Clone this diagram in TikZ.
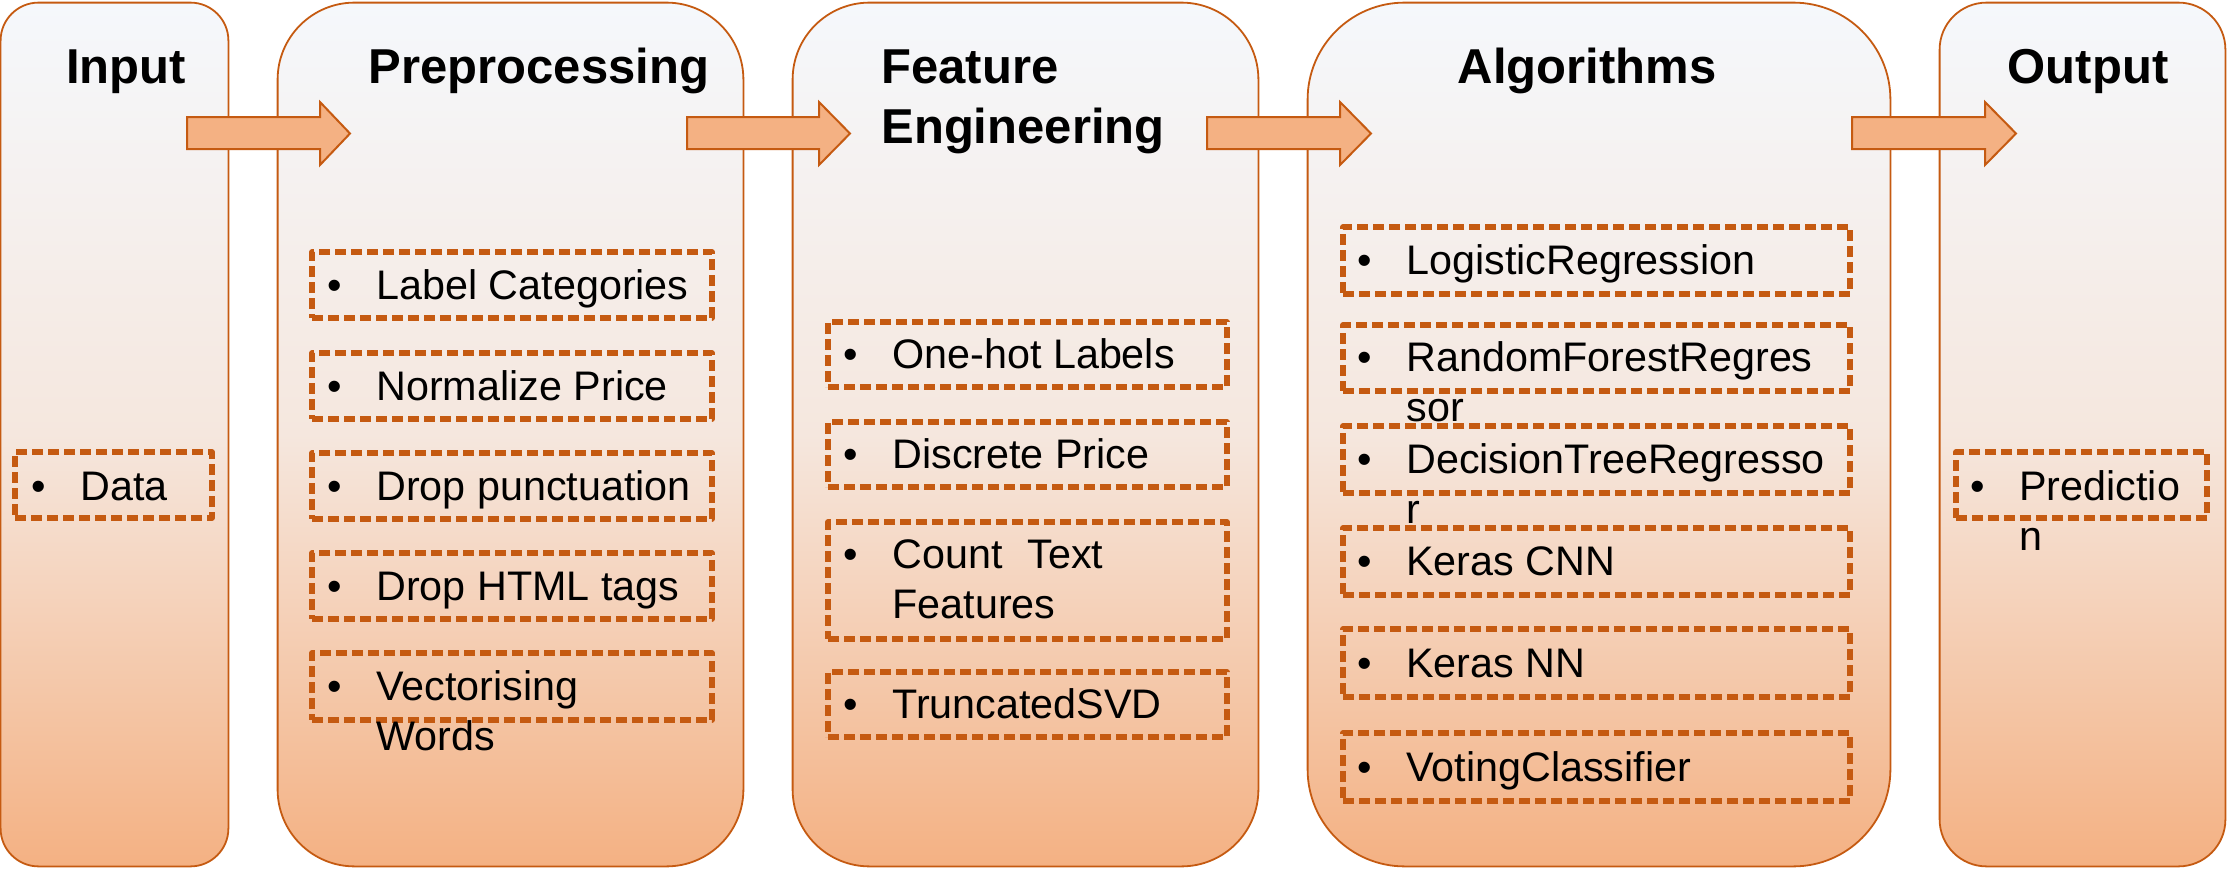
\documentclass[tikz,border=0pt]{standalone}
\usepackage{fontspec}
\setmainfont{Liberation Sans}
\usetikzlibrary{fit}
\definecolor{edge}{HTML}{C55A11}
\definecolor{peach}{HTML}{F4B183}
\definecolor{topc}{HTML}{F5F8FC}
\definecolor{midc}{HTML}{F5E7DE}
\pgfdeclareverticalshading{panelshade}{100bp}{color(0bp)=(peach); color(25bp)=(peach); color(50bp)=(midc); color(75bp)=(topc); color(100bp)=(topc)}
\newcommand\bul[1]{\makebox[24.5pt][l]{•}\begin{tabular}[t]{@{}l@{}}#1\end{tabular}}
\tikzset{
  panelfill/.style={shading=panelshade, draw=none, inner sep=0pt},
  paneledge/.style={draw=edge, line width=0.9pt},
  blockarrow/.style={fill=peach, draw=edge, line width=1pt, line join=miter},
  itembox/.style={draw=edge, line width=2.6pt, dash pattern=on 5.5pt off 2.5pt, line join=round, inner sep=0pt},
  itemtxt/.style={anchor=base west, inner sep=0pt, font=\fontsize{20.65pt}{25pt}\selectfont},
  titletxt/.style={anchor=base, inner sep=0pt, font=\fontsize{24.5pt}{30pt}\selectfont\bfseries}
}
\begin{document}
\begin{tikzpicture}[x=0.5pt, y=-0.5pt]
\useasboundingbox (0,0) rectangle (2227,868);
% panels
\node[panelfill, minimum width=113.5pt, minimum height=431.5pt, rounded corners=19pt] (inp) at (114.5,434.5) {};
\node[panelfill, minimum width=232.5pt, minimum height=431.5pt, rounded corners=38.5pt] (pre) at (510.5,434.5) {};
\node[panelfill, minimum width=232.5pt, minimum height=431.5pt, rounded corners=38.5pt] (fe) at (1025.5,434.5) {};
\node[panelfill, minimum width=291pt, minimum height=431.5pt, rounded corners=48.5pt] (alg) at (1599,434.5) {};
\node[panelfill, minimum width=142.5pt, minimum height=431.5pt, rounded corners=23.5pt] (out) at (2082.5,434.5) {};
\draw[paneledge, rounded corners=19pt] (inp.south west) rectangle (inp.north east);
\draw[paneledge, rounded corners=38.5pt] (pre.south west) rectangle (pre.north east);
\draw[paneledge, rounded corners=38.5pt] (fe.south west) rectangle (fe.north east);
\draw[paneledge, rounded corners=48.5pt] (alg.south west) rectangle (alg.north east);
\draw[paneledge, rounded corners=23.5pt] (out.south west) rectangle (out.north east);
% block arrows
\draw[blockarrow] (187,117) -- (320,117) -- (320,102) -- (350,133.5) -- (320,165) -- (320,149) -- (187,149) -- cycle;
\draw[blockarrow] (687,117) -- (819,117) -- (819,102) -- (850,133.5) -- (819,165) -- (819,149) -- (687,149) -- cycle;
\draw[blockarrow] (1207,117) -- (1340,117) -- (1340,102) -- (1371,133.5) -- (1340,165) -- (1340,149) -- (1207,149) -- cycle;
\draw[blockarrow] (1852,117) -- (1985,117) -- (1985,102) -- (2016,133.5) -- (1985,165) -- (1985,149) -- (1852,149) -- cycle;
% titles
\node[titletxt] (tinp) at (126,83) {Input};
\node[titletxt] (tpre) at (539,83) {Preprocessing};
\node[titletxt, anchor=base west] (tfe) at (881,83) {\begin{tabular}[t]{@{}l@{}}Feature\\Engineering\end{tabular}};
\node[titletxt] (talg) at (1587,83) {Algorithms};
\node[titletxt] (tout) at (2088,83) {Output};
% input items
\node[itembox, fit={(15,452) (212,518)}] (b0) {};
\node[itemtxt] (t0) at (31,500) {\bul{Data}};
% preprocessing items
\node[itembox, fit={(312,252) (712,318)}] (p1) {};
\node[itembox, fit={(312,353) (712,419)}] (p2) {};
\node[itembox, fit={(312,453) (712,519)}] (p3) {};
\node[itembox, fit={(312,553) (712,619)}] (p4) {};
\node[itembox, fit={(312,653) (712,720)}] (p5) {};
\node[itemtxt] (pt1) at (327,299) {\bul{Label Categories}};
\node[itemtxt] (pt2) at (327,400) {\bul{Normalize Price}};
\node[itemtxt] (pt3) at (327,500) {\bul{Drop punctuation}};
\node[itemtxt] (pt4) at (327,600) {\bul{Drop HTML tags}};
\node[itemtxt] (pt5) at (327,700) {\bul{Vectorising\\Words}};
% feature engineering items
\node[itembox, fit={(828,322) (1227,387)}] (f1) {};
\node[itembox, fit={(828,422) (1227,487)}] (f2) {};
\node[itembox, fit={(828,522) (1227,639)}] (f3) {};
\node[itembox, fit={(828,672) (1227,737)}] (f4) {};
\node[itemtxt] (ft1) at (843,368) {\bul{One-hot Labels}};
\node[itemtxt] (ft2) at (843,468) {\bul{Discrete Price}};
\node[itemtxt] (ft3) at (843,568) {\bul{Count\hspace*{12.5pt}Text\\Features}};
\node[itemtxt] (ft4) at (843,718) {\bul{TruncatedSVD}};
% algorithm items
\node[itembox, fit={(1343,227) (1850,294)}] (a1) {};
\node[itembox, fit={(1343,325) (1850,391)}] (a2) {};
\node[itembox, fit={(1343,426) (1850,493)}] (a3) {};
\node[itembox, fit={(1343,528) (1850,595)}] (a4) {};
\node[itembox, fit={(1343,629) (1850,697)}] (a5) {};
\node[itembox, fit={(1343,733) (1850,801)}] (a6) {};
\node[itemtxt] (at1) at (1357,274) {\bul{LogisticRegression}};
\node[itemtxt] (at2) at (1357,371) {\bul{RandomForestRegres\\sor}};
\node[itemtxt] (at3) at (1357,473) {\bul{DecisionTreeRegresso\\r}};
\node[itemtxt] (at4) at (1357,575) {\bul{Keras CNN}};
\node[itemtxt] (at5) at (1357,677) {\bul{Keras NN}};
\node[itemtxt] (at6) at (1357,781) {\bul{VotingClassifier}};
% output items
\node[itembox, fit={(1956,452) (2207,518)}] (o1) {};
\node[itemtxt] (ot1) at (1970,500) {\bul{Predictio\\n}};
\end{tikzpicture}
\end{document}
